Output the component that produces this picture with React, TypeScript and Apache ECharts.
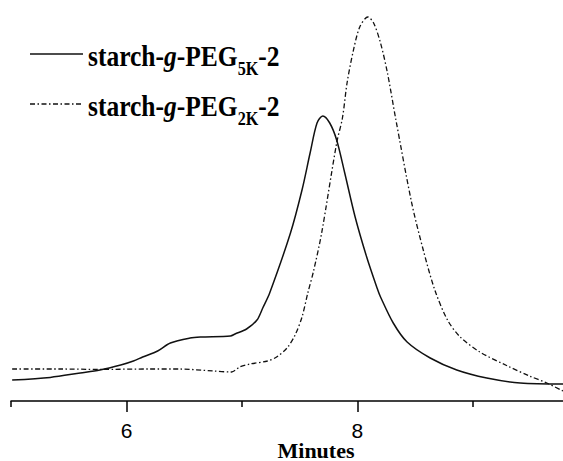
import React, { useEffect, useRef } from "react";
import * as echarts from "echarts";

// Elution time (minutes) and detector response (arbitrary units, 0-100)
const solidName = "starch-g-PEG5K-2";
const solidX = [5.01, 5.34, 5.60, 5.77, 5.95, 6.06, 6.14, 6.27, 6.38, 6.55, 6.64, 6.90, 6.94, 7.04, 7.13, 7.18, 7.24, 7.42, 7.52, 7.59, 7.65, 7.70, 7.76, 7.82, 7.89, 7.98, 8.08, 8.17, 8.20, 8.31, 8.43, 8.63, 8.86, 9.12, 9.41, 9.78];
const solidY = [5.25, 5.9, 7, 7.75, 9, 10, 11, 12.5, 14.5, 15.75, 16, 16.25, 16.75, 18, 20.25, 23.25, 27, 42, 52.75, 62, 69.5, 71.25, 69.5, 65.25, 57, 46, 36, 28.25, 26, 19.5, 14.75, 10.75, 7.75, 5.75, 4.5, 4.25];

const dashName = "starch-g-PEG2K-2";
const dashX = [5.01, 5.43, 5.77, 6.20, 6.46, 6.75, 6.91, 6.98, 7.07, 7.22, 7.30, 7.39, 7.46, 7.52, 7.57, 7.62, 7.69, 7.82, 7.87, 7.91, 7.96, 8.02, 8.09, 8.14, 8.20, 8.26, 8.33, 8.47, 8.57, 8.67, 8.78, 8.89, 9.06, 9.30, 9.49, 9.64, 9.78];
const dashY = [8, 8, 7.9, 8, 8, 7.5, 7.25, 8.5, 9.25, 10, 11, 13.25, 16.5, 21, 27, 32.5, 42, 64.5, 70.75, 79.5, 87, 93.5, 96, 94.5, 89.5, 82, 70.75, 49.5, 37.75, 27.75, 20.25, 16, 12.25, 8.75, 6.25, 4.5, 2.5];

const majorTicks = [6, 8];
const minorTicks = [5, 7, 9];
const xMin = 5;
const xMax = 9.78;
const xTitle = "Minutes";

const serif = "'Liberation Serif', 'Times New Roman', serif";
const sans = "'Liberation Sans', Arial, sans-serif";
const dashPattern = [5, 2.5, 1.5, 2.5];

function legendRich() {
  return {
    m: { fontFamily: serif, fontWeight: "bold", fontSize: 30, fill: "#000", padding: [0, 0, 7, 0], verticalAlign: "bottom" },
    i: { fontFamily: serif, fontWeight: "bold", fontStyle: "italic", fontSize: 30, fill: "#000", padding: [0, 0, 7, 0], verticalAlign: "bottom" },
    s: { fontFamily: serif, fontWeight: "bold", fontSize: 19, fill: "#000", verticalAlign: "bottom" },
  };
}

export default function App() {
  const ref = useRef<HTMLDivElement>(null);
  useEffect(() => {
    document.body.style.margin = "0";
    const chart = echarts.init(ref.current!, null, { renderer: "svg" });
    const tickStyle = { color: "#000", width: 1.5 };
    const gridBase = { left: 11, right: 0, top: 1, bottom: 60, containLabel: false, outerBoundsMode: "none" };
    const option: any = {
      animation: false,
      backgroundColor: "#fff",
      grid: [{ ...gridBase }, { ...gridBase }],
      xAxis: [
        {
          gridIndex: 0,
          type: "value",
          min: xMin,
          max: xMax,
          interval: 1,
          axisLine: { show: true, onZero: false, lineStyle: tickStyle },
          axisTick: { show: true, customValues: majorTicks, length: 11, lineStyle: tickStyle },
          axisLabel: {
            customValues: majorTicks,
            formatter: (v: number) => String(v),
            fontSize: 21,
            fontFamily: sans,
            color: "#000",
            margin: 19,
          },
          splitLine: { show: false },
          name: xTitle,
          nameLocation: "middle",
          nameGap: 38,
          nameMoveOverlap: false,
          nameTextStyle: {
            fontFamily: serif,
            fontWeight: "bold",
            fontSize: 22,
            color: "#000",
            padding: [0, 0, 0, 58],
          },
        },
        {
          gridIndex: 1,
          type: "value",
          min: xMin,
          max: xMax,
          interval: 1,
          axisLine: { show: false },
          axisTick: { show: true, customValues: minorTicks, length: 6, lineStyle: tickStyle },
          axisLabel: { show: false },
          splitLine: { show: false },
        },
      ],
      yAxis: [
        { gridIndex: 0, type: "value", min: 0, max: 100, show: false },
        { gridIndex: 1, type: "value", min: 0, max: 100, show: false },
      ],
      series: [
        {
          name: solidName,
          type: "line",
          xAxisIndex: 0,
          yAxisIndex: 0,
          data: solidX.map((x, i) => [x, solidY[i]]),
          showSymbol: false,
          symbol: "none",
          smooth: 0.3,
          lineStyle: { color: "#111", width: 1.5, type: "solid" },
        },
        {
          name: dashName,
          type: "line",
          xAxisIndex: 0,
          yAxisIndex: 0,
          data: dashX.map((x, i) => [x, dashY[i]]),
          showSymbol: false,
          symbol: "none",
          smooth: 0.3,
          lineStyle: { color: "#111", width: 1.3, type: dashPattern },
        },
      ],
      graphic: [
        { type: "line", shape: { x1: 30, y1: 54, x2: 83, y2: 54 }, style: { stroke: "#111", lineWidth: 1.5 } },
        {
          type: "text",
          x: 88,
          y: 41,
          scaleX: 0.85,
          style: {
            text: "{m|starch-}{i|g}{m|-PEG}{s|5K}{m|-2}",
            rich: legendRich(),
            align: "left",
            verticalAlign: "top",
          },
        },
        { type: "line", shape: { x1: 30, y1: 104, x2: 83, y2: 104 }, style: { stroke: "#111", lineWidth: 1.3, lineDash: dashPattern } },
        {
          type: "text",
          x: 88,
          y: 91,
          scaleX: 0.85,
          style: {
            text: "{m|starch-}{i|g}{m|-PEG}{s|2K}{m|-2}",
            rich: legendRich(),
            align: "left",
            verticalAlign: "top",
          },
        },
      ],
    };
    chart.setOption(option);
    return () => chart.dispose();
  }, []);
  return (
    <div
      ref={ref}
      style={{ position: "absolute", left: 0, top: 0, width: 563, height: 461 }}
    />
  );
}
